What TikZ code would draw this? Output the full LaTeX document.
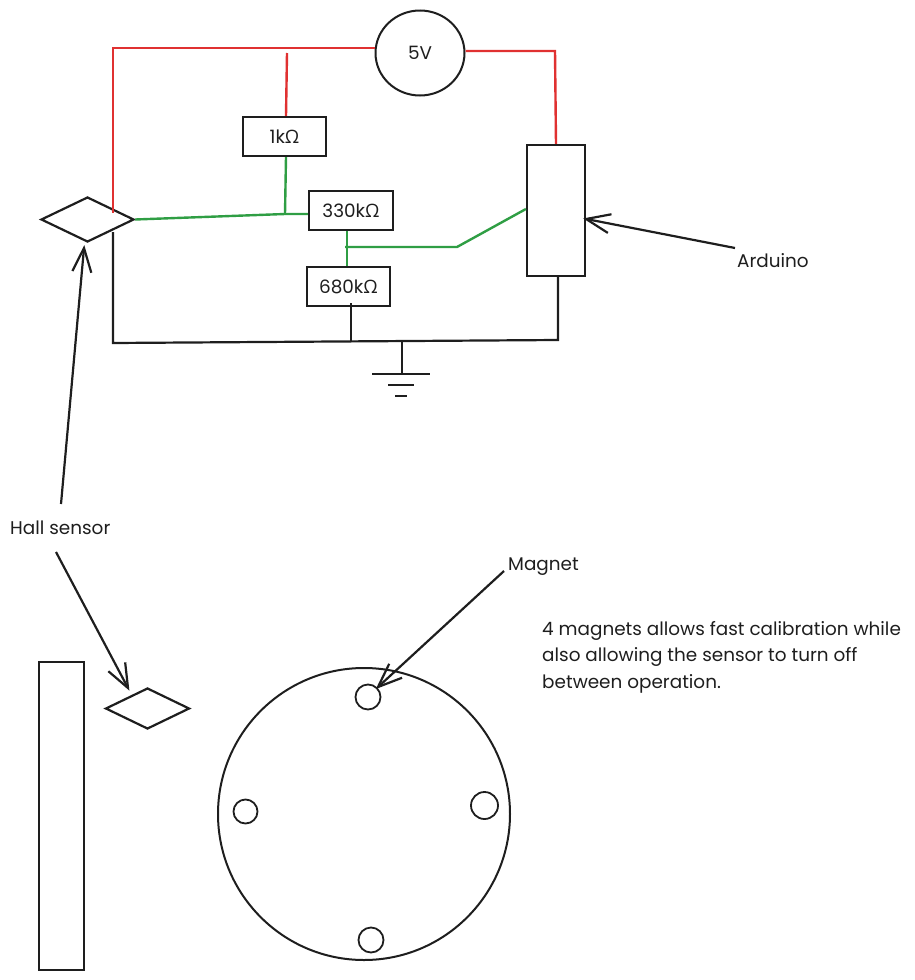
\documentclass[tikz,border=0pt]{standalone}
\usepackage{fontspec}
\setmainfont{Poppins}
\newfontfamily\omegafont{Open Sans}
\newcommand{\ohm}{{\omegafont Ω}}
\usetikzlibrary{shapes.geometric,arrows.meta}
\definecolor{ink}{HTML}{1E1E1E}
\definecolor{redw}{HTML}{E03131}
\definecolor{greenw}{HTML}{2F9E44}
\tikzset{
  every node/.style={text=ink,font=\fontsize{18.4}{26.6}\selectfont},
  box/.style={draw=ink,line width=2.2pt,rectangle,inner sep=0pt},
  sens/.style={draw=ink,line width=2.2pt,diamond,inner sep=0pt,aspect=2},
  hole/.style={draw=ink,line width=1.8pt,circle,inner sep=0pt},
  label/.style={inner sep=0pt,anchor=base west},
  redwire/.style={draw=redw,line width=2.4pt,line join=miter},
  greenwire/.style={draw=greenw,line width=2.4pt,line join=miter},
  blackwire/.style={draw=ink,line width=2.2pt,line join=miter},
  pointer/.style={draw=ink,line width=2.2pt,shorten >=-3pt,-{Straight Barb[length=24pt,width=19pt,line width=2.2pt]}},
}
\begin{document}
\begin{tikzpicture}[x=1pt,y=-1pt]
\useasboundingbox (0,0) rectangle (914,980);
% components
\node[draw=ink,line width=2pt,ellipse,inner sep=0pt,minimum width=89pt,minimum height=85pt] (v5) at (420,53) {5V};
\node[box,minimum width=83pt,minimum height=39pt] (r1) at (284.5,136.5) {1k\ohm};
\node[box,minimum width=84pt,minimum height=39pt] (r330) at (351,210.5) {330k\ohm};
\node[box,minimum width=83pt,minimum height=39pt] (r680) at (348.5,286.5) {680k\ohm};
\node[box,minimum width=58pt,minimum height=131pt] (ard) at (556,210.5) {};
\node[sens,minimum width=93pt,minimum height=45pt] (hall) at (87.5,219.5) {};
\node[sens,minimum width=84pt,minimum height=41pt] (hallb) at (147.5,708.5) {};
\node[box,minimum width=45pt,minimum height=308pt] (bar) at (61.5,816) {};
\node[draw=ink,line width=2pt,circle,inner sep=0pt,minimum size=292pt] (disc) at (364,814) {};
\node[hole,minimum size=25pt] (m1) at (368,697) {};
\node[hole,minimum size=27pt] (m2) at (484.5,805.5) {};
\node[hole,minimum size=24pt] (m3) at (245.5,811.5) {};
\node[hole,minimum size=25pt] (m4) at (371,940) {};
% labels
\node[label] (tard) at (737,267) {Arduino};
\node[label] (thall) at (10,534) {Hall sensor};
\node[label] (tmag) at (508,570.5) {Magnet};
\node[label,align=left,anchor=north west] (tnote) at (542,621) {4 magnets allows fast calibration while\\also allowing the sensor to turn off\\between operation.};
% junctions
\coordinate (ra) at (113,48);
\coordinate (rb) at (113,213);
\coordinate (rc) at (287,53);
\coordinate (rd) at (555,51);
\coordinate (ga) at (285,214);
\coordinate (gb) at (345,247);
\coordinate (gc) at (457,247);
\coordinate (gd) at (347,247);
\coordinate (ka) at (113,232);
\coordinate (kb) at (113,343);
\coordinate (kc) at (558,340);
\coordinate (kd) at (351,303);
\coordinate (ke) at (351,341.5);
\coordinate (kf) at (402,341);
\coordinate (kg) at (402,374);
\coordinate (g1a) at (372,374);
\coordinate (g1b) at (430,374);
\coordinate (g2a) at (388,385);
\coordinate (g2b) at (414,385);
\coordinate (g3a) at (395,396);
\coordinate (g3b) at (407,396);
\coordinate (pa) at (735,248);
\coordinate (pb) at (61,504);
\coordinate (pc) at (56,552);
\coordinate (pd) at (504,571);
% red wires
\draw[redwire] (v5.west |- ra) -- (ra) -- (rb);
\draw[redwire] (rc) -- (r1.north -| 286,0);
\draw[redwire] (v5.east |- rd) -- (rd) -- (ard.north -| 556,0);
% green wires
\draw[greenwire] (hall.east) -- (ga) -- (r330.west |- ga);
\draw[greenwire] (r1.south -| 286,0) -- (ga);
\draw[greenwire] (r330.south -| gd) -- (r680.north -| gd);
\draw[greenwire] (gb) -- (gc) -- (ard.west |- 0,209);
% black wires
\draw[blackwire] (ka) -- (kb) -- (kc) -- (ard.south -| kc);
\draw[blackwire] (kd) -- (ke);
\draw[blackwire] (kf) -- (kg);
\draw[blackwire] (g1a) -- (g1b);
\draw[blackwire] (g2a) -- (g2b);
\draw[blackwire] (g3a) -- (g3b);
% pointers
\draw[pointer] (pa) -- (ard.east |- 0,219);
\draw[pointer] (pb) -- (84,248);
\draw[pointer] (pc) -- (128,688);
\draw[pointer] (pd) -- (378,687);
\end{tikzpicture}
\end{document}
